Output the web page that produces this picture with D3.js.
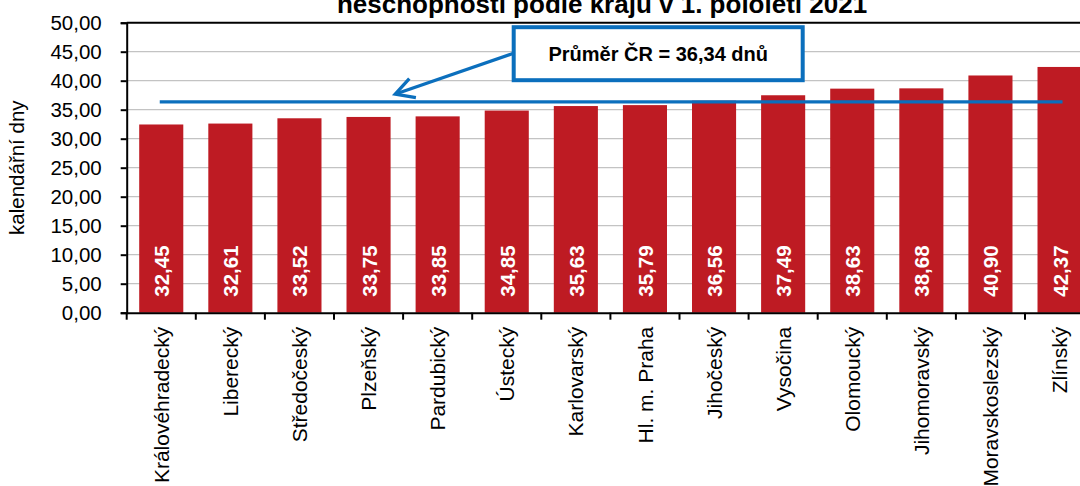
<!DOCTYPE html>
<html>
<head>
<meta charset="utf-8">
<script src="https://cdn.jsdelivr.net/npm/d3@7"></script>
<style>
  body { margin: 0; background: #fff; }
  svg { display: block; font-family: "Liberation Sans", Arial, sans-serif; }
</style>
</head>
<body>
<div id="chart"></div>
<script>
// data
const regions = ["Královéhradecký", "Liberecký", "Středočeský", "Plzeňský", "Pardubický", "Ústecký",
    "Karlovarský", "Hl. m. Praha", "Jihočeský", "Vysočina", "Olomoucký", "Jihomoravský",
    "Moravskoslezský", "Zlínský"];
const days = [32.45, 32.61, 33.52, 33.75, 33.85, 34.85, 35.63, 35.79, 36.56, 37.49, 38.63, 38.68, 40.90, 42.37];
const average = 36.34;
const yTicks = [0, 5, 10, 15, 20, 25, 30, 35, 40, 45, 50];

const W = 1080, H = 486;
const margin = {top: 22.7, left: 126.7};
const plotW = 14 * 69.1;
const plotH = 290;

const fmt = v => d3.format(".2f")(v).replace(".", ",");
const blue = "#0b6fbd";

const svg = d3.select("#chart").append("svg")
    .attr("width", W)
    .attr("height", H);

// title (its upper line is cut off in the original)
svg.append("text")
    .attr("x", 602)
    .attr("y", 13)
    .attr("text-anchor", "middle")
    .style("font-size", "26px")
    .style("font-weight", "bold")
    .text("neschopnosti podle krajů v 1. pololetí 2021");

const g = svg.append("g")
    .attr("transform", `translate(${margin.left},${margin.top})`);

const x = d3.scaleBand()
    .domain(regions)
    .range([0, plotW])
    .paddingInner(0.362)
    .paddingOuter(0.181);

const y = d3.scaleLinear()
    .domain([0, 50])
    .range([plotH, 0]);

// gridlines
g.append("g")
    .selectAll("line")
    .data(yTicks.filter(d => d > 0 && d < 50))
    .enter()
    .append("line")
    .attr("x1", 0)
    .attr("x2", plotW)
    .attr("y1", d => y(d))
    .attr("y2", d => y(d))
    .attr("stroke", "#c3c3c3")
    .attr("stroke-width", 1.3);

// top border of plot area
g.append("line")
    .attr("x1", 0).attr("x2", plotW)
    .attr("y1", 0).attr("y2", 0)
    .attr("stroke", "#000")
    .attr("stroke-width", 2);

// bars
g.append("g")
    .selectAll("rect")
    .data(days)
    .enter()
    .append("rect")
    .attr("x", (d, i) => x(regions[i]))
    .attr("width", x.bandwidth())
    .attr("y", d => y(d))
    .attr("height", d => plotH - y(d))
    .attr("fill", "#be1b23");

// value labels inside bars
g.append("g")
    .selectAll("text")
    .data(days)
    .enter()
    .append("text")
    .attr("transform", (d, i) => `translate(${x(regions[i]) + x.bandwidth() / 2 + 8},${plotH - 16}) rotate(-90)`)
    .attr("fill", "#fff")
    .style("font-size", "20.5px")
    .style("font-weight", "bold")
    .text(d => fmt(d));

// y axis
const yAxis = g.append("g")
    .call(d3.axisLeft(y).tickValues(yTicks).tickFormat(fmt).tickSize(6).tickPadding(19));
yAxis.select(".domain").attr("stroke", "#000").attr("stroke-width", 2);
yAxis.selectAll(".tick line").attr("stroke", "#000").attr("stroke-width", 2);
yAxis.selectAll(".tick text")
    .style("font-size", "20.5px")
    .style("font-family", "'Liberation Sans', Arial, sans-serif")
    .attr("fill", "#000");

// x axis
const xAxis = g.append("g")
    .attr("transform", `translate(0,${plotH})`)
    .call(d3.axisBottom(x).tickSize(0));
xAxis.select(".domain").attr("stroke", "#000").attr("stroke-width", 2);
xAxis.selectAll(".tick text")
    .attr("transform", "rotate(-90)")
    .attr("text-anchor", "end")
    .attr("x", -14)
    .attr("y", 0)
    .attr("dy", "0.36em")
    .style("font-size", "21px")
    .style("font-family", "'Liberation Sans', Arial, sans-serif")
    .attr("fill", "#000");

// tick marks between categories
g.append("g")
    .selectAll("line")
    .data(d3.range(regions.length + 1))
    .enter()
    .append("line")
    .attr("x1", i => i * x.step())
    .attr("x2", i => i * x.step())
    .attr("y1", plotH)
    .attr("y2", plotH + 7)
    .attr("stroke", "#000")
    .attr("stroke-width", 2);

// average line
const avgY = y(average);
g.append("line")
    .attr("x1", x(regions[0]) + x.bandwidth() / 2 - 1.5)
    .attr("x2", x(regions[regions.length - 1]) + x.bandwidth() / 2 + 3)
    .attr("y1", avgY)
    .attr("y2", avgY)
    .attr("stroke", blue)
    .attr("stroke-width", 3.3);

// callout box
const box = {x: 387, y: 4.5, w: 289, h: 53};
g.append("rect")
    .attr("x", box.x)
    .attr("y", box.y)
    .attr("width", box.w)
    .attr("height", box.h)
    .attr("fill", "#fff")
    .attr("stroke", blue)
    .attr("stroke-width", 4);

g.append("text")
    .attr("x", box.x + box.w / 2)
    .attr("y", box.y + box.h / 2)
    .attr("dy", "0.36em")
    .attr("text-anchor", "middle")
    .style("font-size", "20px")
    .style("font-weight", "bold")
    .text("Průměr ČR = " + fmt(average) + " dnů");

// arrow from box to average line
const ax1 = box.x, ay1 = 30.5, ax2 = 268.5, ay2 = 71.5;
const ang = Math.atan2(ay1 - ay2, ax1 - ax2);
const headLen = 21, spread = 0.5;
g.append("line")
    .attr("x1", ax1).attr("y1", ay1)
    .attr("x2", ax2 + 2 * Math.cos(ang)).attr("y2", ay2 + 2 * Math.sin(ang))
    .attr("stroke", blue)
    .attr("stroke-width", 3.3);
g.append("path")
    .attr("d", d3.line()([
        [ax2 + headLen * Math.cos(ang + spread), ay2 + headLen * Math.sin(ang + spread)],
        [ax2, ay2],
        [ax2 + headLen * Math.cos(ang - spread), ay2 + headLen * Math.sin(ang - spread)]
    ]))
    .attr("fill", "none")
    .attr("stroke", blue)
    .attr("stroke-width", 3.3)
    .attr("stroke-linejoin", "miter");

// y label
svg.append("text")
    .attr("transform", `translate(24,${margin.top + plotH / 2}) rotate(-90)`)
    .attr("text-anchor", "middle")
    .style("font-size", "20.5px")
    .text("kalendářní dny");
</script>
</body>
</html>
